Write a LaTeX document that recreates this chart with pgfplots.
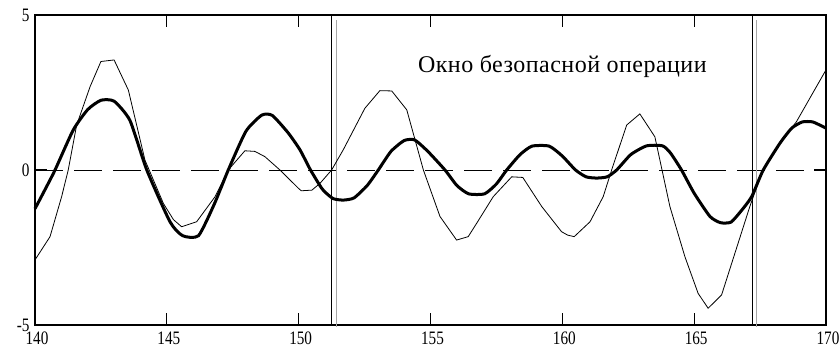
\documentclass[border=0pt]{standalone}
\usepackage{pgfplots}
\pgfplotsset{compat=1.18}
\usepackage{fontspec}
\setmainfont{Liberation Serif}
\begin{document}
\begin{tikzpicture}
\useasboundingbox (-35bp,-27bp) rectangle (805bp,325bp);
\begin{axis}[
  scale only axis, width=791bp, height=310bp,
  xmin=140, xmax=170, ymin=-5, ymax=5,
  xtick={140,145,...,170}, ytick={-5,0,5},
  tick align=inside,
  major tick length=12bp,
  axis line style={line width=1.2bp, black},
  x tick style={line width=0.8bp, black},
  y tick style={line width=2bp, black},
  tick label style={font=\fontsize{19bp}{19bp}\selectfont\addfontfeatures{FakeStretch=0.8}},
  xticklabel style={yshift=-3bp, xshift=2bp},
  yticklabel style={xshift=-2bp},
  /pgf/number format/assume math mode=true,
  clip=false,
]
\addplot[black, line width=0.8bp, dash pattern=on 28bp off 11bp] coordinates {(140,0) (170,0)};
\addplot[black, line width=1.2bp] coordinates {(151.25,-5) (151.25,5)};
\addplot[gray!70, line width=1.2bp] coordinates {(151.44,-5.07) (151.44,4.85)};
\addplot[black, line width=1.2bp] coordinates {(167.22,-5) (167.22,5)};
\addplot[gray!70, line width=1.2bp] coordinates {(167.37,-5.07) (167.37,4.85)};
% thin curve
\addplot[black, line width=0.8bp] coordinates {
(140,-2.9) (140.57,-2.15) (141.01,-0.86) (141.26,0) (141.58,1.45) (142.09,2.69)
(142.5,3.5) (143.0,3.55) (143.54,2.58) (144.17,0.32) (144.87,-1.08) (145.25,-1.6)
(145.56,-1.83) (146.13,-1.67) (146.83,-0.86) (147.33,0) (147.96,0.62) (148.34,0.6)
(148.72,0.43) (149.29,0) (149.99,-0.59) (150.1,-0.67) (150.5,-0.65) (150.81,-0.43)
(151.25,0) (151.69,0.65) (152.51,1.99) (153.08,2.56) (153.53,2.55) (154.1,1.94)
(154.73,0) (155.36,-1.5) (155.99,-2.26) (156.43,-2.15) (156.75,-1.72) (157.38,-0.86)
(158.08,-0.22) (158.5,-0.24) (159.22,-1.18) (159.97,-1.99) (160.2,-2.1) (160.45,-2.15)
(161.05,-1.67) (161.55,-0.86) (161.87,0) (162.44,1.45) (162.94,1.81) (163.51,1.07)
(164.08,-1.18) (164.65,-2.8) (165.15,-3.98) (165.53,-4.46) (166.04,-4.03) (167.11,-1.18)
(167.6,0) (168.25,0.86) (168.88,1.56) (170,3.23)
};
% thick curve
\addplot[black, line width=3bp, smooth, tension=0.35] coordinates {
(140,-1.25) (140.4,-0.6) (140.76,0) (141.45,1.29) (142.0,1.95) (142.5,2.25) (143.0,2.22)
(143.6,1.6) (144.24,0) (145.12,-1.67) (145.6,-2.12) (146.2,-2.12) (146.8,-1.1) (147.33,0)
(148.0,1.25) (148.6,1.77) (149.0,1.76) (149.6,1.2) (150.05,0.65) (150.45,0) (150.9,-0.62)
(151.3,-0.92) (151.7,-0.97) (152.1,-0.9) (152.6,-0.5) (153.02,0) (153.5,0.6) (154.0,0.95)
(154.4,0.97) (154.9,0.6) (155.55,0) (156.0,-0.5) (156.45,-0.77) (157.05,-0.77) (157.5,-0.45)
(157.89,0) (158.4,0.5) (158.85,0.77) (159.5,0.77) (160.0,0.45) (160.5,0) (160.9,-0.22)
(161.3,-0.26) (161.7,-0.22) (162.06,0) (162.6,0.5) (163.2,0.78) (163.8,0.78) (164.1,0.55)
(164.52,0) (165.0,-0.75) (165.6,-1.5) (166.0,-1.7) (166.4,-1.68) (166.8,-1.3) (167.18,-0.86)
(167.62,0) (168.25,0.86) (168.7,1.35) (169.1,1.55) (169.5,1.55) (170,1.35)
};
\node[anchor=base, font=\fontsize{24bp}{24bp}\selectfont\addfontfeatures{LetterSpace=2}] at (axis cs:160,3.16) {Окно безопасной операции};
\end{axis}
\end{tikzpicture}
\end{document}
